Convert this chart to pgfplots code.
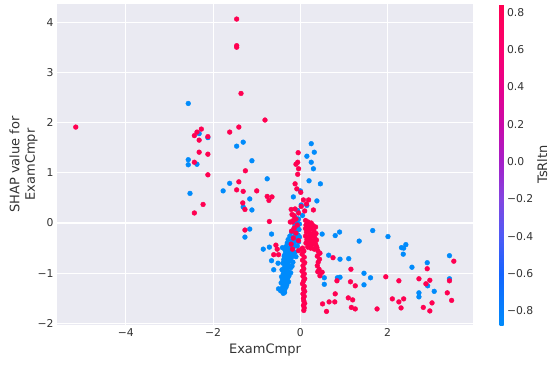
\documentclass[border=0pt]{standalone}
\usepackage{fontspec}
\setmainfont{DejaVu Sans}
\usepackage{pgfplots}
\pgfplotsset{compat=1.18}
\definecolor{shapred}{RGB}{255,0,81}
\definecolor{shapblue}{RGB}{0,139,251}
\definecolor{sbbg}{RGB}{234,234,242}
\definecolor{txt}{RGB}{51,51,51}
\begin{document}
\begin{tikzpicture}
\begin{axis}[
  scale only axis, width=416bp, height=321bp,
  xmin=-5.58, xmax=3.96, ymin=-2.03, ymax=4.36,
  axis background/.style={fill=sbbg},
  axis line style={draw=none},
  major tick length=0pt,
  grid=major, major grid style={white, line width=1.1bp},
  xtick={-4,-2,0,2}, xticklabels={−4,−2,0,2},
  ytick={-2,-1,0,1,2,3,4}, yticklabels={−2,−1,0,1,2,3,4},
  tick label style={font=\fontsize{10.8bp}{12bp}\selectfont, text=txt},
  xlabel={ExamCmpr},
  ylabel={SHAP value for\\ExamCmpr},
  label style={font=\fontsize{13bp}{15.5bp}\selectfont, text=txt},
  xlabel style={at={(axis description cs:0.5,-0.0903)}, anchor=base},
  ylabel style={at={(axis description cs:-0.0805,0.5)}, anchor=center, align=center},
  colormap={shap}{rgb255(0pt)=(0,139,251); rgb255(16pt)=(20,100,255); rgb255(28pt)=(80,90,245); rgb255(39pt)=(130,70,225); rgb255(51pt)=(165,30,200); rgb255(62pt)=(200,10,170); rgb255(74pt)=(230,0,140); rgb255(86pt)=(250,0,110); rgb255(100pt)=(255,0,81)},
  point meta min=-0.875, point meta max=0.845,
  colorbar,
  colorbar style={
    at={(parent axis.north east)}, anchor=north west, xshift=18bp,
    scale only axis, width=4bp, height=321bp,
    axis line style={draw=none}, major tick length=0pt,
    ytick={-0.8,-0.6,-0.4,-0.2,0,0.2,0.4,0.6,0.8},
    yticklabels={−0.8,−0.6,−0.4,−0.2,0.0,0.2,0.4,0.6,0.8},
    yticklabel style={font=\fontsize{10.8bp}{12bp}\selectfont, text=txt},
    ylabel={TsRltn},
    ylabel style={at={(axis description cs:10.7,0.5)}, anchor=center, font=\fontsize{13bp}{15.5bp}\selectfont, text=txt},
  },
  clip=true,
]
\addplot[only marks, mark=*, mark size=2.4bp, color=shapblue] coordinates {
(-2.57,2.38) (-2.32,1.78) (-2.12,1.70) (-2.57,1.26) (-2.57,1.16) (-2.37,1.17) (-2.53,0.59)
(-1.46,1.53) (-1.31,1.61) (-1.11,1.24) (-0.76,0.88) (-1.62,0.79) (-1.77,0.64) (-1.16,0.48)
(-1.31,0.32) (-1.11,0.26) (-1.16,-0.12) (-1.27,-0.28) (-0.66,-0.22) (-0.85,-0.52) (-0.71,-0.48)
(-0.41,-0.49) (-0.66,-0.75) (-0.51,-0.80) (-0.61,-0.93) (-0.50,-1.31) (-0.36,-1.38)
(0.25,1.58) (0.32,1.41) (0.15,1.33) (0.25,1.21) (0.30,1.08) (0.20,0.84) (0.46,0.78) (0.00,0.64)
(-0.16,0.52) (0.38,0.44) (0.02,0.36) (0.15,0.35) (-0.06,0.25) (-0.12,0.12) (0.05,0.15)
(0.50,-0.22) (0.80,-0.25) (0.90,-0.18) (1.35,-0.36) (1.66,-0.15) (2.01,-0.27) (0.65,-0.64)
(0.91,-0.72) (1.11,-0.71) (1.46,-1.00) (1.61,-1.09) (1.46,-1.23) (0.91,-1.08) (0.85,-1.09)
(0.55,-1.09) (0.55,-1.22) (2.32,-0.49) (2.37,-0.50) (2.42,-0.43) (2.36,-0.62) (2.56,-0.88)
(2.91,-0.79) (3.42,-0.65) (2.92,-1.25) (3.42,-1.11) (3.07,-1.36) (2.72,-1.39) (2.72,-1.47)
(-0.04,0.08) (-0.08,0.02) (-0.02,-0.02) (-0.12,-0.05) (-0.06,-0.08)
(-0.15,-0.12) (-0.09,-0.15) (-0.03,-0.13) (-0.20,-0.18) (-0.12,-0.21) (-0.05,-0.24) (-0.24,-0.26)
(-0.16,-0.28) (-0.08,-0.30) (-0.02,-0.28)
(-0.28,-0.33) (-0.19,-0.35) (-0.11,-0.36) (-0.04,-0.38) (-0.30,-0.40) (-0.22,-0.42) (-0.14,-0.44)
(-0.07,-0.46) (-0.33,-0.47) (-0.25,-0.49) (-0.17,-0.50)
(-0.35,-0.54) (-0.28,-0.55) (-0.20,-0.57) (-0.12,-0.58) (-0.31,-0.61) (-0.24,-0.63) (-0.16,-0.64)
(-0.37,-0.66) (-0.29,-0.68) (-0.21,-0.70) (-0.10,-0.67) (-0.35,-0.62)
(-0.38,-0.73) (-0.31,-0.74) (-0.25,-0.76) (-0.17,-0.78) (-0.40,-0.80) (-0.33,-0.82) (-0.27,-0.84)
(-0.19,-0.86) (-0.36,-0.88) (-0.30,-0.90) (-0.22,-0.89)
(-0.42,-0.93) (-0.35,-0.95) (-0.28,-0.97) (-0.22,-0.99) (-0.39,-1.01) (-0.32,-1.03) (-0.26,-1.05)
(-0.43,-1.07) (-0.36,-1.09) (-0.29,-1.10)
(-0.41,-1.13) (-0.34,-1.15) (-0.27,-1.17) (-0.44,-1.19) (-0.37,-1.21) (-0.31,-1.23) (-0.40,-1.26)
(-0.33,-1.28) (-0.42,-1.31) (-0.36,-1.33) (-0.45,-1.35) (-0.39,-1.40)
};
\addplot[only marks, mark=*, mark size=2.4bp, color=shapred] coordinates {
(-5.15,1.91) (-2.27,1.87) (-2.37,1.81) (-2.43,1.74) (-2.32,1.65) (-2.12,1.72) (-2.32,1.41)
(-2.12,1.37) (-2.43,1.21) (-2.12,0.96) (-2.23,0.37) (-2.43,0.20)
(-1.46,4.06) (-1.46,3.53) (-1.46,3.50) (-1.36,2.58) (-0.81,2.05) (-1.41,1.91) (-1.62,1.81)
(-1.26,1.04) (-1.41,0.82) (-1.46,0.66) (-1.31,0.63) (-1.00,0.64) (-0.76,0.53) (-0.65,0.52)
(-0.72,0.45) (-1.32,0.40) (-1.27,0.27) (-0.71,0.03) (-1.27,-0.14)
(-0.56,-0.44) (-0.61,-0.63) (-0.50,-0.63) (-0.53,-0.52) (-0.21,-0.42) (-0.18,-0.52)
(-0.05,1.40) (-0.06,1.21) (-0.10,1.17) (-0.04,1.08) (-0.06,0.97) (-0.12,0.78) (-0.08,0.68)
(0.01,0.61) (0.07,0.46) (0.19,0.46) (0.02,0.33) (-0.12,0.28) (-0.21,0.27) (0.30,0.26) (0.10,0.24)
(-0.04,0.20) (0.14,0.38) (-0.15,0.15) (-0.10,0.08) (-0.18,0.02) (-0.07,-0.04) (-0.14,-0.10)
(-0.20,-0.16) (-0.10,-0.20) (-0.16,-0.30) (-0.04,-0.35) (-0.04,-0.55) (0.03,-0.52)
(-0.19,0.17) (-0.16,0.05) (-0.23,0.02)
(0.12,0.05) (0.18,0.02) (0.25,0.00) (0.13,-0.04) (0.20,-0.06) (0.29,-0.05) (0.35,-0.08)
(0.12,-0.11) (0.17,-0.13) (0.24,-0.12) (0.31,-0.15) (0.14,-0.18) (0.21,-0.20) (0.28,-0.22)
(0.36,-0.21) (0.12,-0.26) (0.18,-0.28) (0.25,-0.27) (0.33,-0.29) (0.15,-0.33) (0.22,-0.35)
(0.30,-0.36) (0.37,-0.34) (0.13,-0.40) (0.20,-0.42) (0.27,-0.43) (0.35,-0.42) (0.17,-0.48)
(0.24,-0.50) (0.32,-0.52) (0.38,-0.49)
(0.05,-0.50) (0.08,-0.56) (0.04,-0.62) (0.09,-0.68) (0.05,-0.74) (0.10,-0.79) (0.06,-0.85)
(0.08,-0.91) (0.04,-0.96) (0.09,-1.01) (0.06,-1.06) (0.10,-1.11) (0.07,-1.16) (0.05,-1.21)
(0.09,-1.26) (0.07,-1.31) (0.10,-1.36) (0.06,-1.41) (0.09,-1.46) (0.07,-1.50) (0.08,-1.55)
(0.10,-1.60) (0.07,-1.64) (0.09,-1.69) (0.08,-1.74)
(0.40,-0.55) (0.43,-0.60) (0.39,-0.66) (0.44,-0.72) (0.41,-0.78) (0.39,-0.85) (0.43,-0.92)
(0.40,-0.97) (0.45,-1.05) (0.36,-0.45)
(0.75,-0.69) (1.16,-0.92) (0.50,-0.98) (1.96,-1.07) (2.26,-1.15) (2.72,-1.11) (2.88,-1.21)
(2.97,-1.14) (3.42,-1.15) (3.52,-0.76) (2.91,-0.91) (3.37,-1.39) (3.47,-1.54) (3.02,-1.59)
(2.82,-1.68) (2.97,-1.75) (2.11,-1.51) (2.26,-1.57) (2.37,-1.51) (2.31,-1.69) (1.76,-1.71)
(1.17,-1.68) (1.26,-1.71) (1.10,-1.49) (1.20,-1.53) (0.80,-1.41) (0.79,-1.57) (0.66,-1.57)
(0.60,-1.76) (0.51,-1.61) (0.84,-1.15) (1.15,-1.17) (1.26,-1.25) (0.45,-0.60)
};
\end{axis}
\pgfresetboundingbox
\path[use as bounding box] (-57bp,-40bp) rectangle (493bp,325bp);
\end{tikzpicture}
\end{document}
